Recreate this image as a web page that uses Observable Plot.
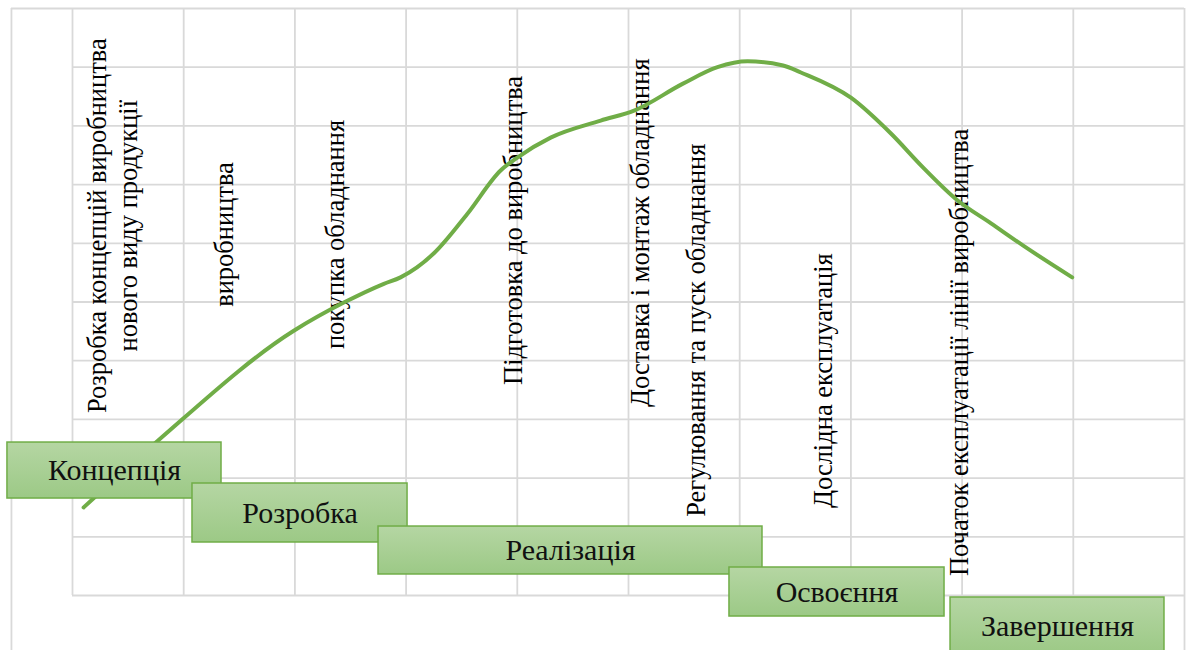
<!DOCTYPE html>
<html>
<head>
<meta charset="utf-8">
<script src="https://cdn.jsdelivr.net/npm/d3@7"></script>
<script src="https://cdn.jsdelivr.net/npm/@observablehq/plot@0.6"></script>
<style>
  html, body { margin: 0; padding: 0; background: #fff; }
  #chart svg { display: block; }
</style>
</head>
<body>
<div id="chart"></div>
<script>
// Curve (stage activity level)
const curveX = [0.10, 0.77, 1.99, 2.44, 2.80, 2.95, 3.25, 3.55, 3.85, 4.00, 4.30, 4.75, 5.05, 5.49, 5.80, 6.07, 6.39, 6.55, 7.00, 7.36, 7.65, 7.96, 8.26, 8.55, 8.99];
const curveY = [1.50, 2.64, 4.51, 4.99, 5.31, 5.42, 5.83, 6.50, 7.24, 7.46, 7.80, 8.09, 8.26, 8.72, 9.00, 9.10, 9.03, 8.91, 8.48, 7.87, 7.29, 6.73, 6.34, 5.96, 5.42];

// Rotated step labels
const stepText = [
  "Розробка концепцій виробництва\nнового виду продукції",
  "виробництва",
  "покупка обладнання",
  "Підготовка до виробництва",
  "Доставка і монтаж обладнання",
  "Регулювання та пуск обладнання",
  "Дослідна експлуатація",
  "Початок експлуатації лінії виробництва"
];
const stepX = [0.35, 1.35, 2.35, 3.95, 5.09, 5.60, 6.74, 7.96];
const stepY = [6.30, 6.15, 6.15, 6.22, 6.18, 4.52, 3.66, 4.14];

// Phase boxes
const phaseName = ["Концепція", "Розробка", "Реалізація", "Освоєння", "Завершення"];
const phaseX1 = [-0.585, 1.079, 2.752, 5.908, 7.896];
const phaseX2 = [1.340, 3.013, 6.205, 7.842, 9.820];
const phaseTop = [2.606, 1.908, 1.175, 0.477, -0.034];
const phaseBottom = [1.652, 0.903, 0.358, -0.358, -1.005];

// Grid / frame values
const gridTicks = d3.range(0, 11);
const frameLeft = [-0.549];
const frameBottom = -1.0;

const curve = curveX.map((x, i) => ({x, y: curveY[i]}));
const steps = stepText.map((t, i) => ({text: t, x: stepX[i], y: stepY[i]}));
const phases = phaseName.map((n, i) => ({
  name: n, x1: phaseX1[i], x2: phaseX2[i], y1: phaseBottom[i], y2: phaseTop[i],
  cx: (phaseX1[i] + phaseX2[i]) / 2, cy: (phaseTop[i] + phaseBottom[i]) / 2
}));

const gridColor = "#d9d9d9";
const serif = "Liberation Serif";

const chart = Plot.plot({
  width: 1187,
  height: 650,
  marginLeft: 72,
  marginRight: 3,
  marginTop: 8,
  marginBottom: 55,
  x: {domain: [0, 10], axis: null},
  y: {domain: [0, 10], axis: null},
  style: {background: "#fff", color: "#000", fontFamily: serif},
  marks: [
    Plot.ruleX(gridTicks.slice(0, 10), {x: d => d, y1: 0, y2: 10, stroke: gridColor, strokeWidth: 1.8}),
    Plot.ruleX([10], {x: d => d, y1: frameBottom, y2: 10, stroke: gridColor, strokeWidth: 1.8}),
    Plot.ruleY(gridTicks.slice(0, 10), {y: d => d, x1: 0, x2: 10, stroke: gridColor, strokeWidth: 1.8}),
    Plot.ruleY([10], {y: d => d, x1: frameLeft[0], x2: 10, stroke: gridColor, strokeWidth: 1.8}),
    Plot.ruleX(frameLeft, {x: d => d, y1: frameBottom, y2: 10, stroke: gridColor, strokeWidth: 1.8}),
    Plot.text(steps, {x: "x", y: "y", text: "text", rotate: -90, fontSize: 26.5, lineHeight: 1.2, fill: "#000", fontFamily: serif}),
    Plot.line(curve, {x: "x", y: "y", curve: "monotone-x", stroke: "#70ad47", strokeWidth: 4}),
    ...phases.flatMap(p => [
      Plot.rect([p], {x1: "x1", x2: "x2", y1: "y1", y2: "y2", fill: "url(#boxGrad)", stroke: "#70ad47", strokeWidth: 1.5}),
      Plot.text([p], {x: "cx", y: "cy", text: "name", fontSize: 30, fill: "#111", fontFamily: serif})
    ])
  ]
});

const svgNS = "http://www.w3.org/2000/svg";
const defs = document.createElementNS(svgNS, "defs");
defs.innerHTML = `<linearGradient id="boxGrad" x1="0" y1="0" x2="0" y2="1">
  <stop offset="0" stop-color="#b5d6a3"/>
  <stop offset="1" stop-color="#9cc986"/>
</linearGradient>`;
chart.insertBefore(defs, chart.firstChild);

document.getElementById("chart").appendChild(chart);
</script>
</body>
</html>
